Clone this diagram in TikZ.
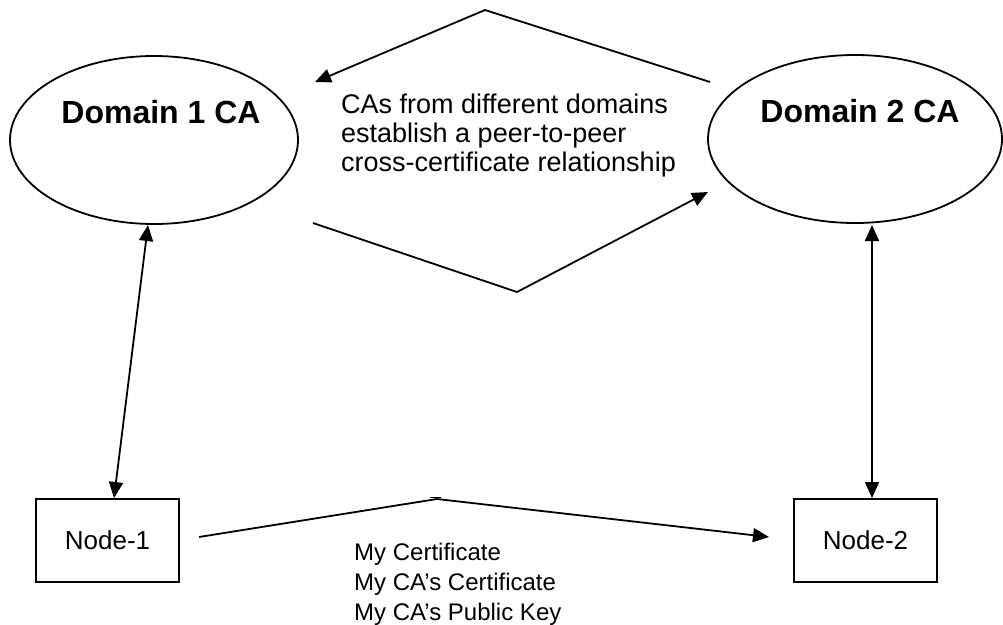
\documentclass[tikz,border=0pt]{standalone}
\usepackage{fontspec}
\setmainfont{Liberation Sans}
\usetikzlibrary{arrows.meta,shapes.geometric}
\begin{document}
\begin{tikzpicture}[x=1pt,y=-1pt,
  conn/.style={line width=1.8pt, -{Triangle[length=16pt,width=14pt]}},
  dconn/.style={line width=1.8pt, {Triangle[length=16pt,width=14pt]}-{Triangle[length=16pt,width=14pt]}},
  ca/.style={draw, ellipse, line width=1.8pt, minimum width=288pt, minimum height=168pt, inner sep=0pt},
  nodebox/.style={draw, rectangle, line width=1.8pt, minimum width=143pt, minimum height=83pt, inner sep=0pt, font=\fontsize{26}{30}\selectfont},
  catext/.style={font=\fontsize{32}{38}\selectfont\bfseries, inner sep=0pt, anchor=base},
  body/.style={inner sep=0pt, anchor=base west}
]
\useasboundingbox (0,0) rectangle (1003,624);
% CA ellipses
\node[ca] (e1) at (154,140) {};
\node[ca, minimum width=294pt] (e2) at (855,139) {};
\node[catext] (t1) at (161,123) {Domain 1 CA};
\node[catext] (t2) at (860,122) {Domain 2 CA};
% end nodes
\node[nodebox] (n1) at (107.5,540.5) {Node-1};
\node[nodebox] (n2) at (865.5,540.5) {Node-2};
% cross-certificate arrows
\coordinate (a1) at (710,82);
\coordinate (a2) at (485,10);
\coordinate (a3) at (315,82);
\draw[conn] (a1) -- (a2) -- (a3);
\coordinate (b1) at (313,223);
\coordinate (b2) at (517,292);
\coordinate (b3) at (708,192);
\draw[conn] (b1) -- (b2) -- (b3);
% vertical double arrows
\coordinate (l1) at (148,225);
\coordinate (l2) at (114,498);
\draw[dconn] (l1) -- (l2);
\coordinate (r1) at (872,225);
\coordinate (r2) at (872,498);
\draw[dconn] (r1) -- (r2);
% node-to-node arrow
\coordinate (c1) at (199,537);
\coordinate (c2) at (437,499);
\coordinate (c3) at (769,537);
\draw[conn] (c1) -- (c2) -- (c3);
\draw[line width=1.5pt] (430,497.5) -- (441,497.5);
% texts
\node[body] (cap) at (341,113) {\fontsize{27}{29}\selectfont\begin{tabular}[t]{@{}l@{}}CAs from different domains\\ establish a peer-to-peer\\ cross-certificate relationship\end{tabular}};
\node[body] (msg) at (354,560) {\fontsize{24}{30}\selectfont\begin{tabular}[t]{@{}l@{}}My Certificate\\ My CA’s Certificate\\ My CA’s Public Key\end{tabular}};
\end{tikzpicture}
\end{document}
